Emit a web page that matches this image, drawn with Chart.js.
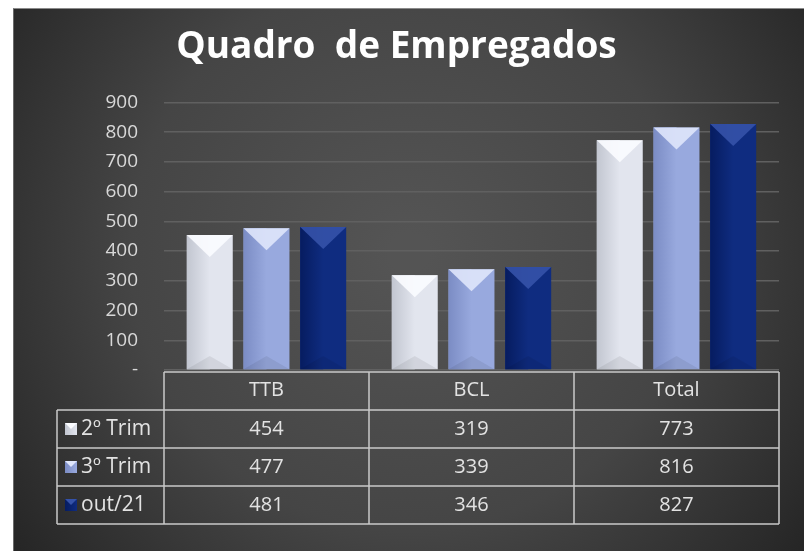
<!DOCTYPE html>
<html>
<head>
<meta charset="utf-8">
<script src="https://cdn.jsdelivr.net/npm/chart.js@4"></script>
<style>
  body { margin: 0; background: #fff; }
  #wrap { position: absolute; left: 13px; top: 8px; width: 791px; height: 543px; border-left: 1px solid #6a6a6a; border-top: 1px solid #8a8a8a; box-sizing: border-box; }
</style>
</head>
<body>
<div id="wrap"><canvas id="chart"></canvas></div>
<script>
const categories = ["TTB", "BCL", "Total"];
const seriesNames = ["2º Trim", "3º Trim", "out/21"];
const trim2 = [454, 319, 773];
const trim3 = [477, 339, 816];
const out21 = [481, 346, 827];
const yTicks = [0, 100, 200, 300, 400, 500, 600, 700, 800, 900];

const FONT = "'Open Sans', sans-serif";

// bar look: [left edge, middle, top highlight]
const barLook = [
  ["#c2c6d0", "#e2e5ee", "#fbfcff"],
  ["#7b8cc4", "#98a9de", "#dfe6fb"],
  ["#061c60", "#0f2c80", "#3552a8"]
];

// dark radial backdrop
const backdrop = {
  id: "backdrop",
  beforeDraw(chart) {
    const { ctx, width, height } = chart;
    const g = ctx.createRadialGradient(width * 0.5, height * 0.45, 20, width * 0.5, height * 0.45, width * 0.62);
    g.addColorStop(0, "#545454");
    g.addColorStop(0.55, "#454545");
    g.addColorStop(1, "#262626");
    ctx.save();
    ctx.fillStyle = g;
    ctx.fillRect(0, 0, width, height);
    ctx.restore();
  }
};

// bevel shading on each bar
const bevel = {
  id: "bevel",
  afterDatasetsDraw(chart) {
    const ctx = chart.ctx;
    chart.data.datasets.forEach((ds, i) => {
      chart.getDatasetMeta(i).data.forEach(bar => {
        const w = bar.width, l = bar.x - w / 2, r = bar.x + w / 2, t = bar.y, b = bar.base;
        if (![w, l, r, t, b].every(Number.isFinite)) return;
        const d = Math.min(w / 2, 22);
        ctx.save();
        // left side darker
        const g = ctx.createLinearGradient(l, 0, bar.x, 0);
        g.addColorStop(0, barLook[i][0]);
        g.addColorStop(1, barLook[i][1]);
        ctx.fillStyle = g;
        ctx.fillRect(l, t, w / 2, b - t);
        // top facet
        ctx.fillStyle = barLook[i][2];
        ctx.globalAlpha = 0.9;
        ctx.beginPath();
        ctx.moveTo(l, t); ctx.lineTo(r, t); ctx.lineTo(bar.x, t + d); ctx.closePath();
        ctx.fill();
        // bottom facet
        ctx.globalAlpha = 0.07;
        ctx.fillStyle = "#000";
        ctx.beginPath();
        ctx.moveTo(l, b); ctx.lineTo(r, b); ctx.lineTo(bar.x, b - d * 0.6); ctx.closePath();
        ctx.fill();
        ctx.restore();
      });
    });
  }
};

// data table under the plot
const dataTable = {
  id: "dataTable",
  afterDraw(chart) {
    const ctx = chart.ctx;
    const x = chart.scales.x;
    const area = chart.chartArea;
    const rowH = 38;
    const top = area.bottom + 2;
    const left = area.left, right = area.right;
    const legendLeft = 43;
    const n = chart.data.datasets.length;
    const bottom = top + rowH * (n + 1);
    const step = (right - left) / chart.data.labels.length;

    ctx.save();
    ctx.strokeStyle = "#c9c9c9";
    ctx.lineWidth = 1.5;
    ctx.beginPath();
    ctx.moveTo(left, top); ctx.lineTo(right, top);
    for (let r = 1; r <= n + 1; r++) {
      ctx.moveTo(legendLeft, top + rowH * r); ctx.lineTo(right, top + rowH * r);
    }
    ctx.moveTo(legendLeft, top + rowH); ctx.lineTo(legendLeft, bottom);
    for (let c = 0; c <= chart.data.labels.length; c++) {
      const cx = left + step * c;
      ctx.moveTo(cx, top); ctx.lineTo(cx, bottom);
    }
    ctx.stroke();

    ctx.textBaseline = "middle";
    chart.data.datasets.forEach((ds, i) => {
      const cy = top + rowH * (i + 1) + rowH / 2;
      // legend key
      const g = ctx.createLinearGradient(legendLeft + 8, 0, legendLeft + 20, 0);
      g.addColorStop(0, barLook[i][0]);
      g.addColorStop(1, barLook[i][1]);
      ctx.fillStyle = g;
      ctx.fillRect(legendLeft + 8, cy - 6, 12, 12);
      ctx.fillStyle = barLook[i][2];
      ctx.beginPath();
      ctx.moveTo(legendLeft + 8, cy - 6); ctx.lineTo(legendLeft + 20, cy - 6); ctx.lineTo(legendLeft + 14, cy); ctx.closePath();
      ctx.fill();
      ctx.fillStyle = "#e2e2e2";
      ctx.textAlign = "left";
      ctx.font = "21px " + FONT;
      ctx.fillText(ds.label, legendLeft + 24, cy);
      ctx.textAlign = "center";
      ctx.font = "20px " + FONT;
      ds.data.forEach((v, j) => {
        ctx.fillText(String(v), x.getPixelForValue(j), cy);
      });
    });
    ctx.restore();
  }
};

new Chart(document.getElementById("chart"), {
  type: "bar",
  data: {
    labels: categories,
    datasets: [
      { label: seriesNames[0], data: trim2, backgroundColor: barLook[0][1] },
      { label: seriesNames[1], data: trim3, backgroundColor: barLook[1][1] },
      { label: seriesNames[2], data: out21, backgroundColor: barLook[2][1] }
    ]
  },
  options: {
    responsive: true,
    maintainAspectRatio: false,
    animation: false,
    categoryPercentage: 0.83,
    barPercentage: 0.81,
    layout: { padding: { left: 0, right: 25, top: 0, bottom: 0 } },
    plugins: {
      legend: { display: false },
      tooltip: { enabled: false },
      title: {
        display: true,
        text: "Quadro  de Empregados",
        color: "#ffffff",
        font: { family: FONT, size: 37, weight: "bold", lineHeight: 1.2 },
        padding: { top: 16, bottom: 33 }
      }
    },
    scales: {
      x: {
        grid: { display: false, drawTicks: false },
        border: { display: false },
        ticks: { color: "#e2e2e2", font: { family: FONT, size: 20 }, padding: 8 },
        afterFit: s => { s.height = 181; }
      },
      y: {
        min: 0,
        max: 900,
        afterBuildTicks: s => { s.ticks = yTicks.map(v => ({ value: v })); },
        grid: { color: "#606060", lineWidth: 1.5, drawTicks: false },
        border: { display: false },
        ticks: {
          color: "#d8d8d8",
          font: { family: FONT, size: 19 },
          padding: 26,
          callback: v => v === 0 ? "-" : v
        },
        afterFit: s => { s.width = 150; }
      }
    }
  },
  plugins: [backdrop, bevel, dataTable]
});
</script>
</body>
</html>
